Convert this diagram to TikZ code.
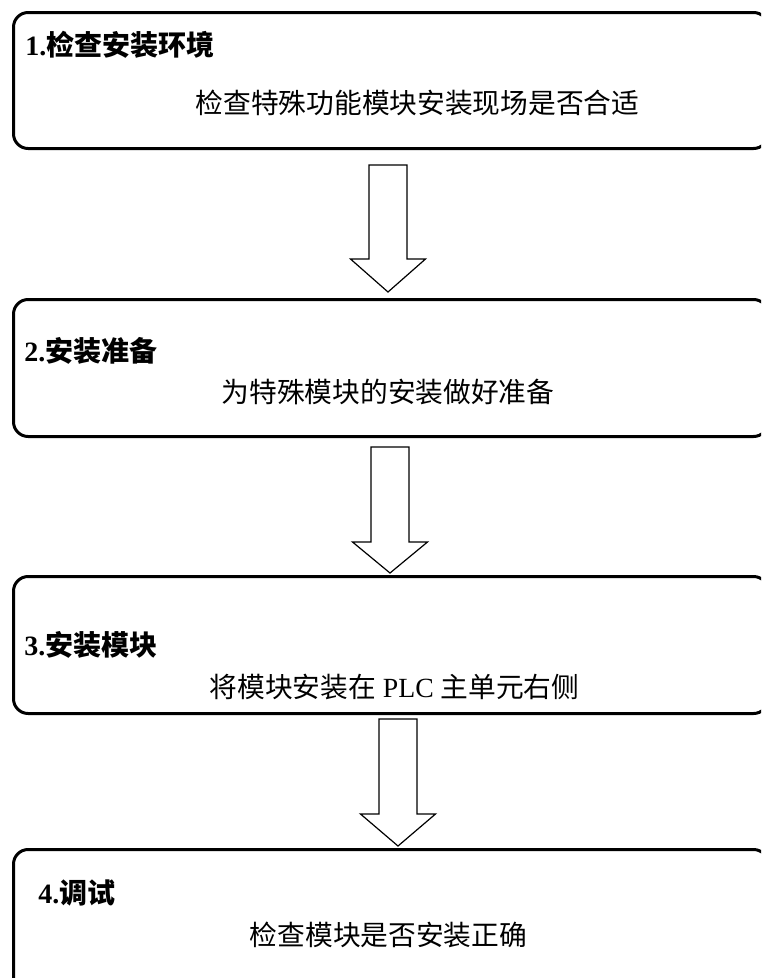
\documentclass[tikz,border=0pt]{standalone}
\usepackage{fontspec}
\setmainfont{Liberation Serif}
\newfontfamily\cjk{Noto Sans CJK SC}
\begin{document}
\begin{tikzpicture}[x=0.75pt,y=-0.75pt,
  stepbox/.style={draw,line width=2.25pt,rounded corners=11pt,anchor=north west,minimum width=566pt,inner sep=0pt},
  ttl/.style={anchor=west,inner sep=0pt,font=\fontsize{21pt}{24pt}\selectfont\bfseries},
  bodytext/.style={inner sep=0pt,font=\fontsize{20.8pt}{24pt}\selectfont},
  blockarrow/.style={draw,line width=0.9pt,fill=white,line join=miter}]
\useasboundingbox (0,0) rectangle (761,978);
\clip (0,0) rectangle (761,978);
% boxes
\node[stepbox,minimum height=102pt] (b1) at (12,11) {};
\node[stepbox,minimum height=102.75pt] (b2) at (12,298) {};
\node[stepbox,minimum height=102.75pt] (b3) at (12,575) {};
\node[stepbox,minimum height=106.5pt] (b4) at (12,848) {};
% titles
\node[ttl] (t1) at (25,45) {1.\cjk 检查安装环境};
\node[ttl] (t2) at (24,351) {2.\cjk 安装准备};
\node[ttl] (t3) at (24,645) {3.\cjk 安装模块};
\node[ttl] (t4) at (38,893) {4.\cjk 调试};
% body texts
\node[bodytext] (d1) at (417.5,102.5) {\cjk 检查特殊功能模块安装现场是否合适};
\node[bodytext] (d2) at (388,391.5) {\cjk 为特殊模块的安装做好准备};
\node[bodytext] (d3) at (394.5,686.5) {{\cjk 将模块安装在} PLC {\cjk 主单元右侧}};
\node[bodytext] (d4) at (388.5,935) {\cjk 检查模块是否安装正确};
% block arrows
\foreach \c/\t/\w/\p in {388/165/259/292, 390/447/542/573, 398/719/814/846}{
  \draw[blockarrow] (\c-19,\t) -- (\c+19,\t) -- (\c+19,\w) -- (\c+37.5,\w) -- (\c,\p) -- (\c-37.5,\w) -- (\c-19,\w) -- cycle;
}
\end{tikzpicture}
\end{document}
